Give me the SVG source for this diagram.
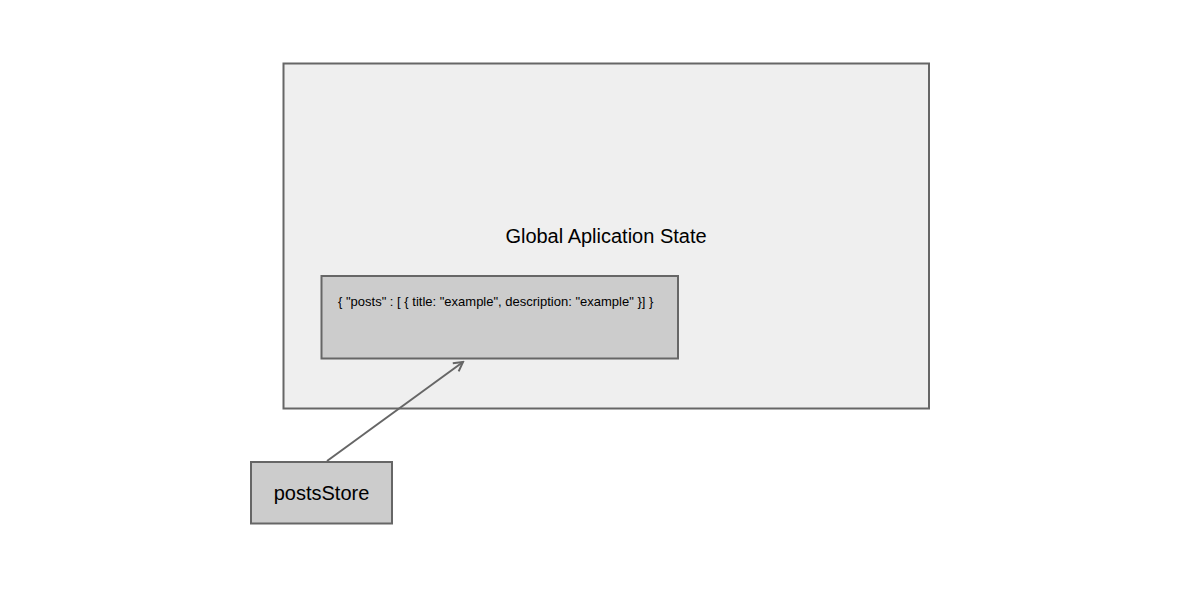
<svg xmlns="http://www.w3.org/2000/svg" width="1200" height="600" viewBox="0 0 1200 600">
<defs>
<style>
.box{stroke:#666666;stroke-width:2}
.t{font-family:"Liberation Sans",Arial,sans-serif;fill:#000}
</style>
<marker id="arr" viewBox="0 0 12 12" refX="10" refY="6" markerWidth="12" markerHeight="12" markerUnits="userSpaceOnUse" orient="auto">
<path d="M1,1 L10,6 L1,11" fill="none" stroke="#666666" stroke-width="2"/>
</marker>
</defs>
<rect width="1200" height="600" fill="#ffffff"/>
<g id="global-state">
<rect class="box" x="283.5" y="63.5" width="645.5" height="345" fill="#efefef"/>
<text class="t" x="606" y="243" font-size="20" text-anchor="middle">Global Aplication State</text>
</g>
<g id="posts-data">
<rect class="box" x="321.5" y="276" width="356.5" height="82.5" fill="#cccccc"/>
<text class="t" x="338" y="306" font-size="13">{ "posts" : [ { title: "example", description: "example" }] }</text>
</g>
<g id="posts-store">
<rect class="box" x="251" y="462" width="141" height="61.5" fill="#cccccc"/>
<text class="t" x="321.5" y="500" font-size="20" text-anchor="middle">postsStore</text>
</g>
<g id="connectors">
<line x1="327" y1="461" x2="463" y2="362" stroke="#666666" stroke-width="2" marker-end="url(#arr)"/>
</g>
</svg>
